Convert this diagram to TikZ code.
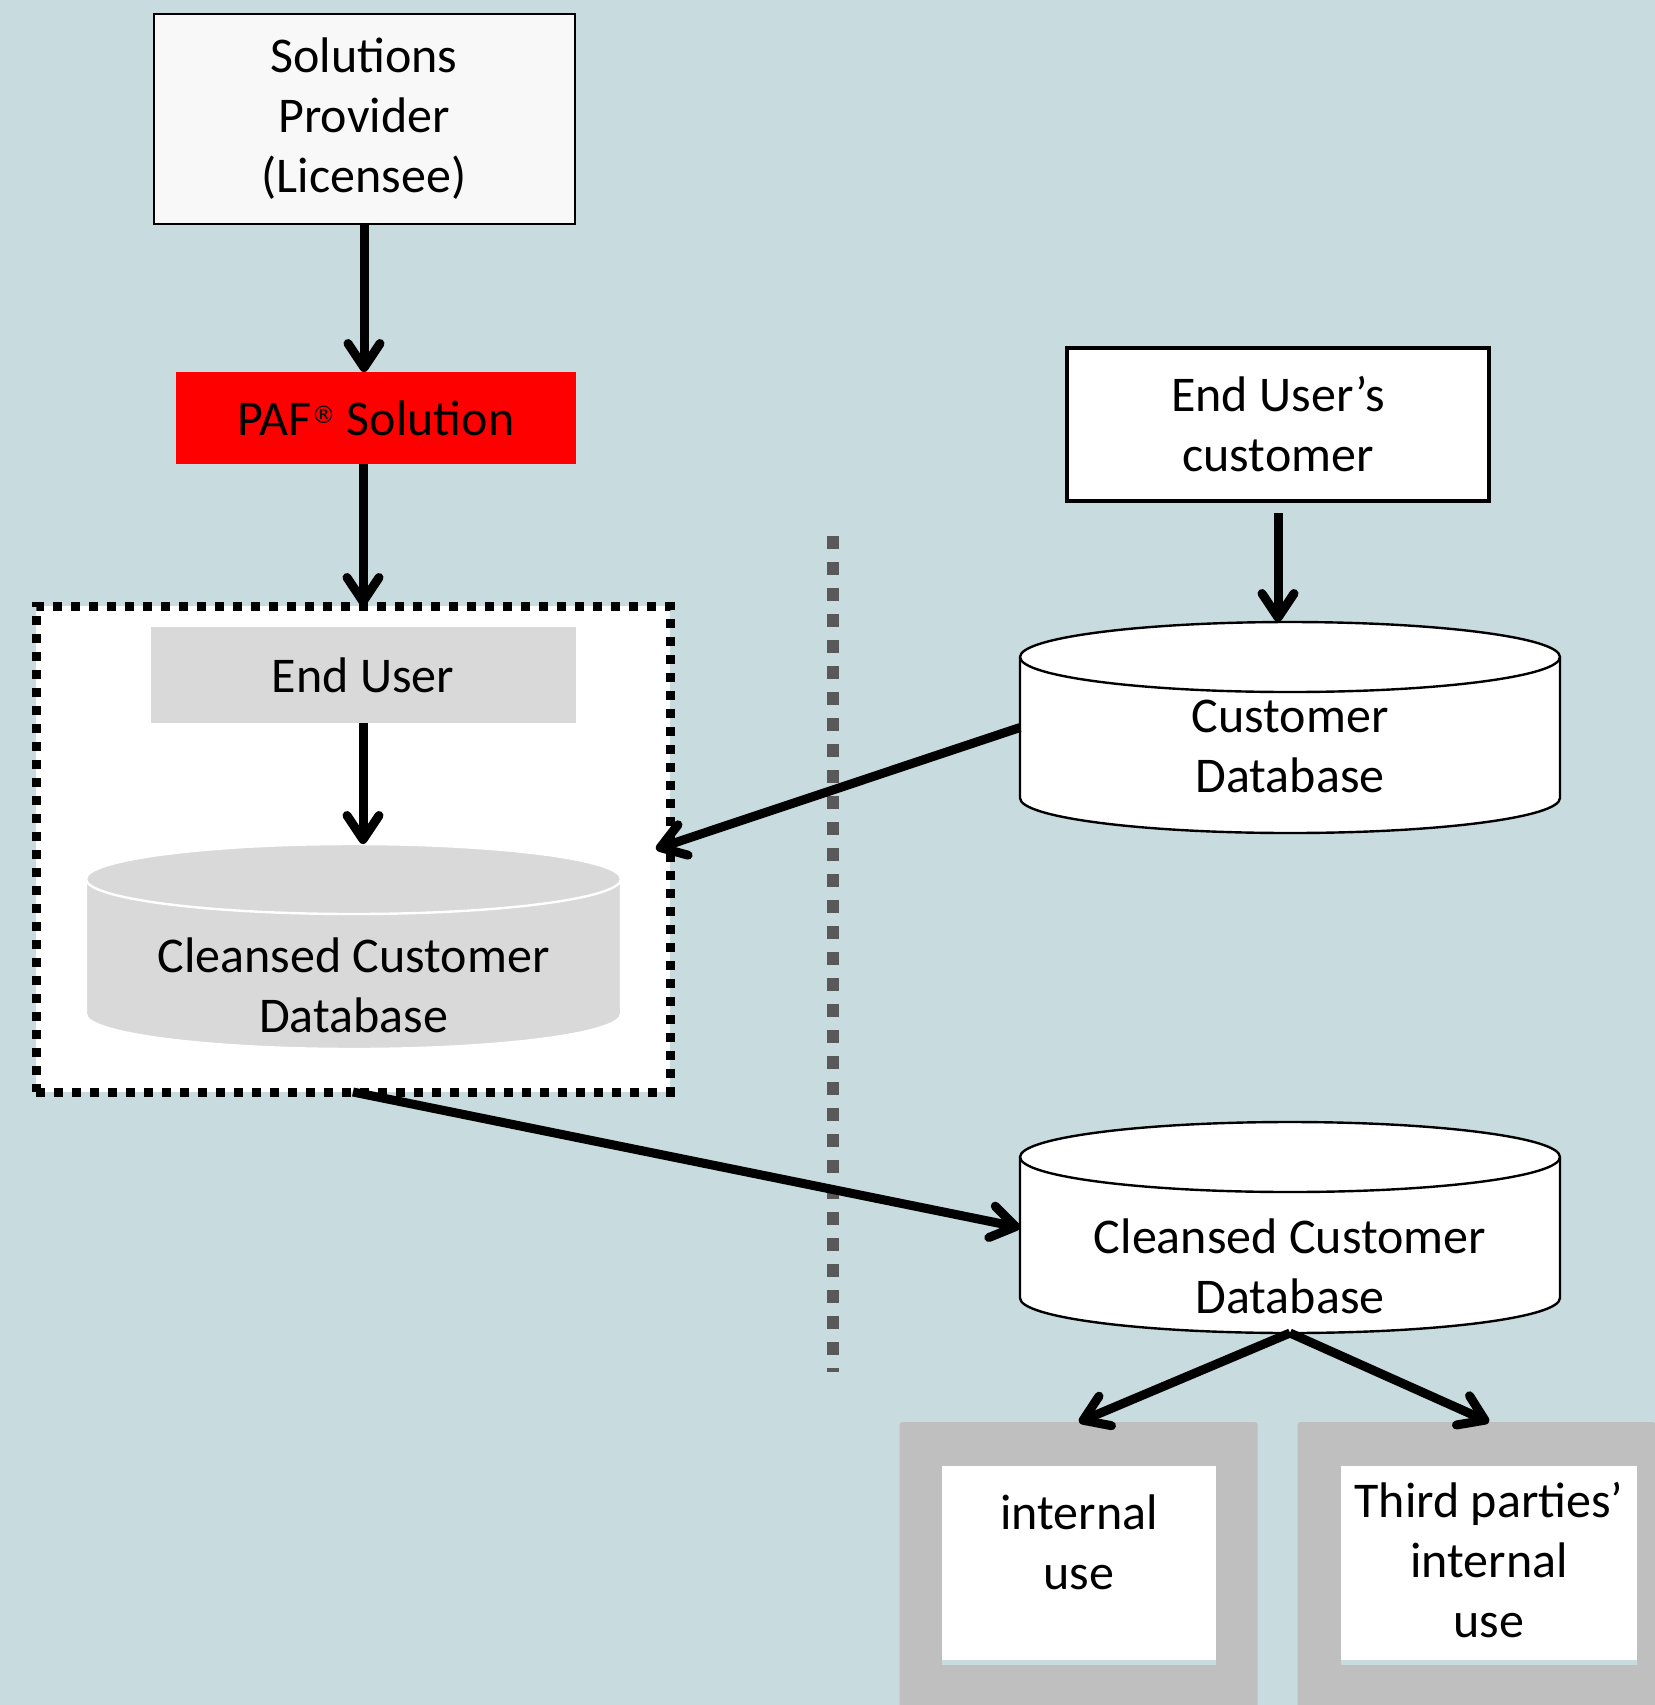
\documentclass[tikz,border=0pt]{standalone}
\usepackage{fontspec}
\setmainfont{Carlito}
\newfontfamily\dejavu{DejaVu Sans}
\usepackage{tikz}
\usetikzlibrary{arrows.meta,positioning}

\definecolor{slate}{RGB}{200,219,223}
\definecolor{lightgrey}{RGB}{217,217,217}
\definecolor{midgrey}{RGB}{191,191,191}
\definecolor{darkgrey}{RGB}{89,89,89}
\definecolor{offwhite}{RGB}{248,248,248}

% cylinder round a database node: name, fill, line colour, x radius
\newcommand{\dbdraw}[4]{%
  \filldraw[fill=#2, draw=#3, line width=1.2pt]
    ([yshift=-17.5pt]#1.north west) -- ([yshift=17.5pt]#1.south west)
    arc[start angle=180, end angle=360, x radius=#4, y radius=17.5pt]
    -- ([yshift=-17.5pt]#1.north east)
    arc[start angle=0, end angle=180, x radius=#4, y radius=17.5pt] -- cycle;
  \draw[#3, line width=1.2pt] ([yshift=-17.5pt]#1.north west)
    arc[start angle=180, end angle=360, x radius=#4, y radius=17.5pt];
}

\begin{document}
\begin{tikzpicture}[x=0.5pt, y=-0.5pt, line width=4.5pt, >={Straight Barb[length=12pt,width=16pt,round]},
  every node/.style={font=\fontsize{25}{30}\selectfont, align=center, inner sep=0pt, outer sep=0pt},
  provbox/.style={draw, line width=1pt, fill=offwhite, minimum width=210.5pt, minimum height=105pt},
  custbox/.style={draw, line width=1.6pt, fill=white, minimum width=211pt, minimum height=76.5pt},
  pafbox/.style={fill=red, minimum width=200pt, minimum height=46pt},
  userbox/.style={fill=lightgrey, minimum width=212.5pt, minimum height=48pt},
  dotframe/.style={draw, fill=white, line width=4.5pt, dash pattern=on 4.5pt off 4.5pt, minimum width=317pt, minimum height=243pt},
  dbnode/.style={minimum width=270pt, minimum height=105.5pt},
  outbox/.style={fill=midgrey, rounded corners=1.5pt, minimum width=179pt, minimum height=179pt},
  inbox/.style={fill=white, minimum width=137pt, minimum height=97pt},
  sepline/.style={darkgrey, line width=6pt, dash pattern=on 6.5pt off 6.5pt}]

\useasboundingbox (0,0) rectangle (1655,1705);
\fill[slate] (0,0) rectangle (1655,1705);

% left column
\node[provbox] (prov) at (364,119) {Solutions\\Provider\\(Licensee)};
\node[pafbox] (paf) at (376,418) {PAF\raisebox{6pt}{\fontsize{12}{12}\dejavu ®} Solution};
\node[dotframe] (frame) at (353,849) {};
\node[userbox] (user) at (363,675) {End User};
\node[dbnode, minimum width=267.5pt, minimum height=102.5pt] (cdb) at (353.5,946.5) {};
\dbdraw{cdb}{lightgrey}{white}{133.75pt}
\node[yshift=-19.5pt] (cdbtext) at (cdb) {Cleansed Customer\\Database};

% right column
\node[custbox] (eucust) at (1278,424.5) {End User’s\\customer};
\node[dbnode] (custdb) at (1290,727.5) {};
\dbdraw{custdb}{white}{black}{135pt}
\node[yshift=-9.25pt] (custdbtext) at (custdb) {Customer\\Database};
\node[dbnode] (cdb2) at (1290,1227.5) {};
\dbdraw{cdb2}{white}{black}{135pt}
\node[yshift=-19.5pt] (cdb2text) at (cdb2) {Cleansed Customer\\Database};

% uses
\node[outbox] (out1) at (1078.5,1601) {};
\node[outbox] (out2) at (1476.5,1601) {};
\node[inbox] (in1) at (1079,1563) {};
\node[inbox, minimum width=148pt] (in2) at (1489,1563) {};
\fill[slate] (in1.south west) rectangle ([yshift=-2.5pt]in1.south east);
\fill[slate] (in2.south west) rectangle ([yshift=-2.5pt]in2.south east);
\node (use1) at (1079,1542) {internal\\use};
\node (use2) at (1489,1560) {Third parties’\\internal\\use};

% separator
\draw[sepline] (833,536) -- (833,1372);

\draw [->] (prov) -- (prov |- paf.north);
\draw [->] (paf.south -| user) -- (frame.north -| user);
\draw [->] (user) -- (user |- cdb.north);
\draw [->, shorten <=6pt] (eucust) -- (eucust |- custdb.north);
\draw [->] (custdb.west) -- ([xshift=-7pt]frame.east);
\draw [->] (frame.south) -- (cdb2.west);
\draw [->] (cdb2.south) -- (in1 |- out1.north);
\draw [->] (cdb2.south) -- (in2 |- out2.north);

\end{tikzpicture}
\end{document}
